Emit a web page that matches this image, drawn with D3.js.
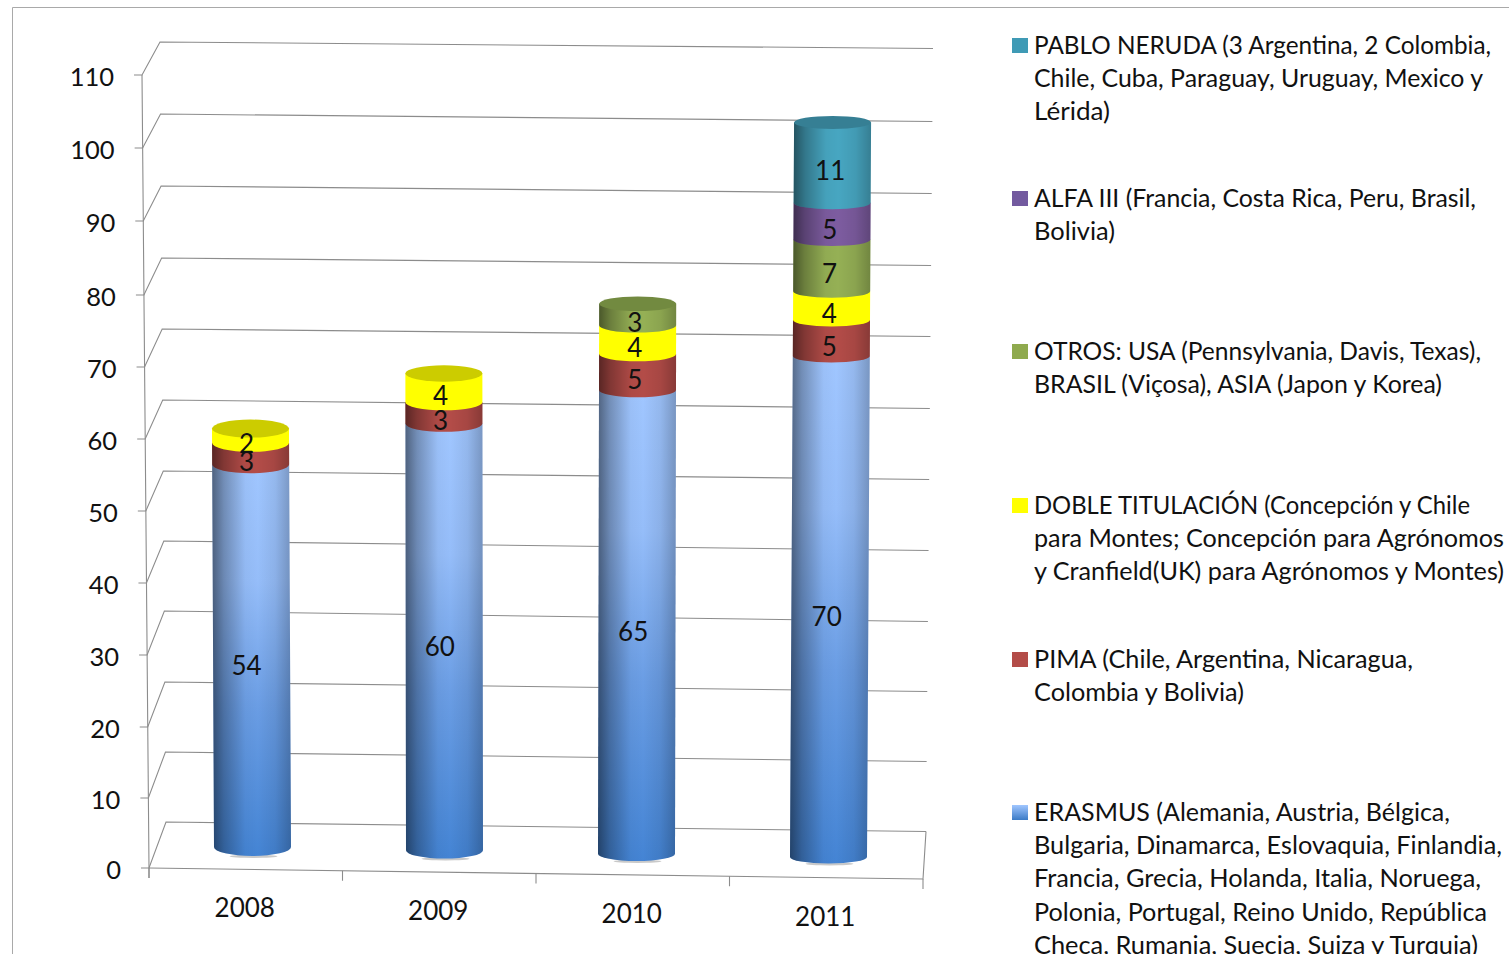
<!DOCTYPE html>
<html><head><meta charset="utf-8">
<script src="https://cdn.jsdelivr.net/npm/d3@7"></script>
<style>html,body{margin:0;padding:0;background:#fff;overflow:hidden}svg{display:block}text{font-family:Lato,"Open Sans",sans-serif;fill:#111}</style>
</head><body><svg id="c" width="1509" height="954"></svg>
<script>
const years = ["2008","2009","2010","2011"];
const erasmus = [54,60,65,70];
const pima = [3,3,5,5];
const doble = [2,4,4,4];
const otros = [0,0,3,7];
const alfa = [0,0,0,5];
const neruda = [0,0,0,11];
const seriesKeys = ["erasmus","pima","doble","otros","alfa","neruda"];
const seriesValues = {erasmus,pima,doble,otros,alfa,neruda};
const yTicks = [0,10,20,30,40,50,60,70,80,90,100,110];
const legendNeruda = ["PABLO NERUDA (3 Argentina, 2 Colombia,","Chile, Cuba, Paraguay, Uruguay, Mexico y","Lérida)"];
const legendAlfa = ["ALFA III (Francia, Costa Rica, Peru, Brasil,","Bolivia)"];
const legendOtros = ["OTROS: USA (Pennsylvania, Davis, Texas),","BRASIL (Viçosa), ASIA (Japon y Korea)"];
const legendDoble = ["DOBLE TITULACIÓN (Concepción y Chile","para Montes; Concepción para Agrónomos","y Cranfield(UK) para Agrónomos y Montes)"];
const legendPima = ["PIMA (Chile, Argentina, Nicaragua,","Colombia y Bolivia)"];
const legendErasmus = ["ERASMUS (Alemania, Austria, Bélgica,","Bulgaria, Dinamarca, Eslovaquia, Finlandia,","Francia, Grecia, Holanda, Italia, Noruega,","Polonia, Portugal, Reino Unido, República","Checa, Rumania, Suecia, Suiza y Turquia)"];

const legendOrder = [
 {k:"neruda",lines:legendNeruda,y:45,w:[457,449,76]},{k:"alfa",lines:legendAlfa,y:198,w:[442,81]},{k:"otros",lines:legendOtros,y:351,w:[447,408]},
 {k:"doble",lines:legendDoble,y:505,w:[436,470,470]},{k:"pima",lines:legendPima,y:659,w:[379,210]},{k:"erasmus",lines:legendErasmus,y:812,w:[416,468,447,453,444]}];
const sideColor = {erasmus:"url(#gBlue)",pima:"#b34c48",doble:"#ffff00",otros:"#95b055",alfa:"#7d5ca0",neruda:"#47a6c1"};
const capColor = {pima:"#8f3c39",doble:"#cccc00",otros:"#728a40",alfa:"#604880",neruda:"#367f94"};
const swatch = {erasmus:"url(#gSw)",pima:"#b34c48",doble:"#ffff00",otros:"#8faa4e",alfa:"#735a9f",neruda:"#3f9ab5"};
const shaded = k => k!=="doble";

const svg = d3.select("#c");
const defs = svg.append("defs");
function lg(id,dir,stops){
  const g=defs.append("linearGradient").attr("id",id).attr("x1",0).attr("y1",0)
    .attr("x2",dir==="h"?1:0).attr("y2",dir==="h"?0:1);
  stops.forEach(s=>g.append("stop").attr("offset",s[0]).attr("stop-color",s[1]).attr("stop-opacity",s[2]===undefined?1:s[2]));
}
lg("gBlue","v",[[0,"#a0c6ff"],[0.3,"#95bdf9"],[0.62,"#6a9de4"],[1,"#4484d4"]]);
lg("gSw","v",[[0,"#a0c6ff"],[1,"#3a7ac6"]]);
lg("gShade","h",[[0,"#000",0.5],[0.15,"#000",0.28],[0.42,"#000",0.03],[0.58,"#000",0],[0.8,"#000",0.07],[1,"#000",0.24]]);

const yFront = d3.scaleLinear().domain(yTicks).range([868,798,727,655,583,511,439,367,295,221,148,75]);
const yBackL = d3.scaleLinear().domain(yTicks).range([822,752,682,611,541,471,400,329,258,186,114,42]);
const yBackR = d3.scaleLinear().domain(yTicks).range([831.5,761.5,691.5,621.5,550.5,479.5,408.5,336.5,265.5,193.5,121.5,48.5]);
const xFront = d3.scaleLinear().domain([0,110]).range([149,142]);
const xBackL = d3.scaleLinear().domain([0,110]).range([166,160]);
const xBackR = d3.scaleLinear().domain([0,110]).range([926,933]);
const xFloor = d3.scaleBand().domain(years).range([149,923]);
const yFloor = d3.scaleLinear().domain([149,923]).range([868,879]);
const xCol = d3.scaleBand().domain(years).range([156.5,924.5]);
const baseY = d3.scaleLinear().domain([0,3]).range([847,857]);
const tilt = d3.scaleLinear().domain([0,3]).range([-0.034,0.04]);
const heightK = d3.scaleLinear().domain([0,3]).range([0.992,1.0]);
const ryCol = d3.scaleLinear().domain([0,3]).range([9,6.5]);

const line = "#8c8c8c";
svg.append("path").attr("d","M12.5 954V7.5H1509").attr("fill","none").attr("stroke","#a9a9a9");

const grid = svg.append("g").attr("fill","none").attr("stroke",line).attr("stroke-width",1.1);
grid.selectAll("path").data(yTicks).join("path")
  .attr("d",v=>{
    const p=d3.path();
    p.moveTo(xFront(v)-8,yFront(v));p.lineTo(xFront(v),yFront(v));
    p.lineTo(xBackL(v),yBackL(v));p.lineTo(xBackR(v),yBackR(v));
    return p.toString();
  });
grid.append("path").attr("d",()=>{const p=d3.path();p.moveTo(xFront(110),yFront(110));p.lineTo(xFront(0),yFront(0));p.lineTo(xFront(0),yFront(0)+10);return p.toString();});
grid.append("path").attr("d",()=>{const p=d3.path();p.moveTo(149,868);p.lineTo(923,879);p.lineTo(xBackR(0),yBackR(0));return p.toString();});
const floorTicks = years.map(y=>xFloor(y)).concat([xFloor.range()[1]]);
grid.selectAll("path.ft").data(floorTicks).join("path").attr("class","ft")
  .attr("d",x=>`M${x} ${yFloor(x)}V${yFloor(x)+10}`);

svg.append("g").selectAll("text").data(yTicks).join("text")
  .attr("x",v=>xFront(v)-28).attr("y",v=>yFront(v)+0.5).attr("text-anchor","end")
  .attr("dominant-baseline","central").attr("font-size",25.5).text(v=>v);
svg.append("g").selectAll("text").data(years).join("text")
  .attr("x",y=>xFloor(y)+xFloor.bandwidth()/2-1).attr("y",y=>yFloor(xFloor(y)+xFloor.bandwidth()/2)+38)
  .attr("text-anchor","middle").attr("dominant-baseline","central").attr("font-size",26).text(y=>y);

const table = years.map((y,i)=>{const o={year:y,i};seriesKeys.forEach(k=>o[k]=seriesValues[k][i]);return o;});
const stacked = d3.stack().keys(seriesKeys)(table);
const rx = 38.5;
const colY = (i,v)=>baseY(i)-(yFront(0)-yFront(v))*heightK(i);
const colX = (i,v)=>xCol(years[i])+xCol.bandwidth()/2+tilt(i)*v;

const cols = svg.append("g");
years.forEach((yr,i)=>{
  const g = cols.append("g");
  const cx0=colX(i,0), by=colY(i,0), r=ryCol(i);
  g.append("ellipse").attr("cx",cx0+1).attr("cy",by+r+0.3).attr("rx",24).attr("ry",1.6).attr("fill","#c9c9c9");
  let top=null, topKey=null;
  stacked.forEach(layer=>{
    const d=layer[i], v0=d[0], v1=d[1];
    if(v1<=v0) return;
    const y0=colY(i,v0), y1=colY(i,v1), c0=colX(i,v0), c1=colX(i,v1);
    const dPath=`M${c1-rx} ${y1}L${c0-rx} ${y0}A${rx} ${r} 0 0 0 ${c0+rx} ${y0}L${c1+rx} ${y1}Z`;
    g.append("path").attr("d",dPath).attr("fill",sideColor[layer.key]);
    if(shaded(layer.key)) g.append("path").attr("d",dPath).attr("fill","url(#gShade)");
    top=v1; topKey=layer.key;
  });
  g.append("ellipse").attr("cx",colX(i,top)).attr("cy",colY(i,top)).attr("rx",rx).attr("ry",r).attr("fill",capColor[topKey]);
});

const lab = svg.append("g");
stacked.forEach(layer=>{
  lab.selectAll(null).data(layer.filter(d=>d[1]>d[0])).join("text")
    .attr("x",d=>colX(d.data.i,(d[0]+d[1])/2)-5+d.data.i*0.6+(layer.key==="erasmus"?0:1))
    .attr("y",d=>colY(d.data.i,(d[0]+d[1])/2)+7.5)
    .attr("text-anchor","middle").attr("dominant-baseline","central").attr("font-size",26)
    .text(d=>d[1]-d[0]);
});

const leg = svg.append("g").selectAll("g").data(legendOrder).join("g");
leg.append("rect").attr("x",1012).attr("y",d=>d.y-7).attr("width",16).attr("height",15).attr("fill",d=>swatch[d.k]);
leg.each(function(d){
  d3.select(this).selectAll("text").data(d.lines).join("text")
    .attr("x",1034).attr("y",(t,j)=>d.y+9+j*33.2).attr("font-size",25)
    .attr("textLength",(t,j)=>d.w[j]).attr("lengthAdjust","spacingAndGlyphs").text(t=>t);
});
</script></body></html>
